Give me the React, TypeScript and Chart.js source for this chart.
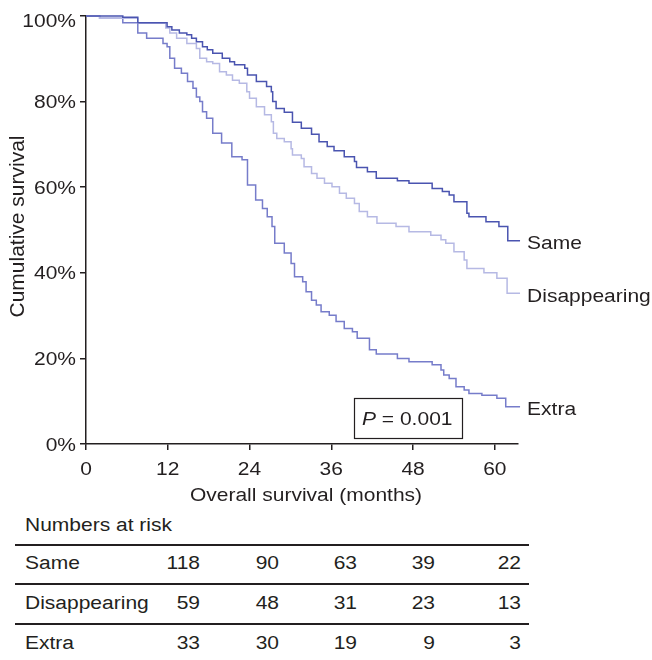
import { useEffect, useRef } from 'react';
import { Chart, registerables } from 'chart.js';

Chart.register(...registerables);

// Kaplan–Meier step points (months, cumulative survival %)
const sameMonths = [0, 5.4, 7.6, 11.9, 12.6, 13.7, 14.8, 15.5, 16.2, 17.1, 17.8, 18.6, 20.0, 21.1, 21.8, 23.3, 23.7, 25.0, 26.5, 27.2, 27.4, 27.9, 29.1, 30.3, 31.6, 33.1, 34.2, 35.4, 36.4, 37.9, 39.4, 39.7, 41.3, 42.6, 45.7, 47.4, 50.8, 52.3, 53.3, 54.0, 55.9, 56.2, 58.7, 60.6, 61.9, 63.7];
const sameSurvival = [100, 99.7, 98.4, 97.5, 96.7, 96.0, 95.6, 94.8, 94.0, 92.8, 92.1, 91.3, 90.1, 89.3, 88.6, 87.8, 86.2, 84.7, 83.5, 82.3, 80.0, 78.4, 77.5, 75.2, 73.8, 72.4, 70.6, 69.5, 68.5, 67.1, 66.0, 64.6, 63.6, 62.1, 61.5, 60.9, 59.7, 59.0, 58.2, 56.6, 53.9, 53.1, 51.9, 50.8, 47.5, 47.5];

const disappearingMonths = [0, 2.0, 7.6, 11.7, 12.3, 13.3, 14.8, 16.2, 16.7, 17.7, 18.6, 19.6, 20.6, 21.5, 22.5, 23.6, 24.0, 25.0, 26.2, 27.2, 27.5, 28.0, 29.1, 30.1, 30.3, 31.6, 32.0, 33.1, 33.9, 35.0, 36.1, 37.2, 38.2, 39.4, 40.1, 41.3, 42.7, 45.5, 47.4, 50.6, 52.1, 52.8, 54.0, 55.5, 55.9, 58.4, 60.3, 61.8, 63.7];
const disappearingSurvival = [100, 99.5, 98.3, 97.2, 96.0, 94.8, 93.6, 92.4, 90.1, 89.3, 88.9, 87.0, 86.2, 85.0, 84.3, 82.3, 80.8, 78.8, 76.9, 75.3, 72.6, 71.4, 70.6, 69.0, 67.5, 66.7, 64.8, 63.2, 62.1, 60.9, 60.1, 58.6, 57.4, 56.2, 54.3, 53.1, 51.6, 50.8, 49.6, 48.8, 47.7, 46.9, 44.9, 43.0, 41.0, 40.0, 38.7, 35.2, 35.2];

const extraMonths = [0, 2.0, 5.4, 7.6, 8.9, 11.3, 11.9, 12.3, 13.0, 14.0, 14.9, 15.7, 16.2, 16.7, 17.1, 17.7, 18.6, 19.9, 21.4, 22.9, 23.7, 24.9, 25.9, 26.6, 27.3, 27.7, 29.1, 30.1, 30.6, 31.8, 32.3, 33.1, 33.8, 34.5, 35.7, 36.7, 37.9, 39.1, 39.8, 41.6, 42.6, 45.7, 47.4, 50.8, 52.1, 52.5, 53.3, 54.3, 55.5, 56.2, 58.1, 60.3, 61.6, 63.7];
const extraSurvival = [100, 99.5, 98.4, 96.0, 94.8, 93.6, 92.8, 90.1, 87.8, 86.6, 84.7, 83.1, 81.1, 80.0, 77.6, 76.1, 72.6, 70.3, 67.1, 66.4, 60.5, 57.0, 55.0, 53.1, 50.8, 46.9, 44.6, 42.2, 39.1, 37.9, 35.6, 33.6, 32.5, 30.9, 30.1, 28.6, 27.0, 26.2, 24.7, 22.0, 21.0, 20.0, 19.2, 18.5, 17.3, 16.1, 15.3, 13.4, 12.6, 11.8, 11.4, 10.7, 8.7, 8.7];

const groupNames = ['Same', 'Disappearing', 'Extra'];
const xTicks = [0, 12, 24, 36, 48, 60];
const yTicks = [0, 20, 40, 60, 80, 100];
const xTitle = 'Overall survival (months)';
const yTitle = 'Cumulative survival';
const pValueText = '0.001';

// Numbers at risk at 0, 12, 24, 36 and 48 months
const riskTitle = 'Numbers at risk';
const sameAtRisk = [118, 90, 63, 39, 22];
const disappearingAtRisk = [59, 48, 31, 23, 13];
const extraAtRisk = [33, 30, 19, 9, 3];

const FONT = "'Liberation Sans', Arial, Helvetica, sans-serif";
const INK = '#231f20';
const SQUASH = 0.88;
const SIZE = 21;
const lineColors = ['#4a54b0', '#b6b9e4', '#767cca'];

function toPoints(months: number[], values: number[]) {
  return months.map((m, i) => ({ x: m, y: values[i] }));
}

function drawLabel(ctx: CanvasRenderingContext2D, text: string, x: number, yMid: number, align: CanvasTextAlign) {
  ctx.save();
  ctx.font = `${SIZE}px ${FONT}`;
  ctx.fillStyle = INK;
  ctx.textAlign = align;
  ctx.textBaseline = 'alphabetic';
  const cap = 0.716 * SIZE * SQUASH;
  ctx.translate(x, yMid + cap / 2);
  ctx.scale(1, SQUASH);
  ctx.fillText(text, 0, 0);
  ctx.restore();
}

const annotations = {
  id: 'kmAnnotations',
  afterDraw(chart: any) {
    const { ctx, chartArea, scales } = chart;
    const xs = scales.x;
    const ys = scales.y;

    yTicks.forEach((v) => {
      const py = Math.max(ys.getPixelForValue(v), chartArea.top + 4);
      drawLabel(ctx, `${v}%`, chartArea.left - 10, py, 'right');
    });
    xTicks.forEach((v) => {
      drawLabel(ctx, String(v), xs.getPixelForValue(v), chartArea.bottom + 24, 'center');
    });
    drawLabel(ctx, xTitle, (chartArea.left + chartArea.right) / 2 + 4, chartArea.bottom + 50, 'center');

    ctx.save();
    ctx.font = `${SIZE}px ${FONT}`;
    ctx.fillStyle = INK;
    ctx.textAlign = 'center';
    ctx.textBaseline = 'alphabetic';
    ctx.translate(24, (chartArea.top + chartArea.bottom) / 2 - 3.5);
    ctx.rotate(-Math.PI / 2);
    ctx.fillText(yTitle, 0, 0);
    ctx.restore();

    chart.data.datasets.forEach((ds: any, i: number) => {
      const meta = chart.getDatasetMeta(i);
      const last = meta.data[meta.data.length - 1];
      drawLabel(ctx, ds.label, last.x + 7, last.y + 2, 'left');
    });

    // P-value box
    const boxRight = chartArea.right - 56;
    const boxBottom = chartArea.bottom - 6;
    const boxW = 108;
    const boxH = 40;
    ctx.save();
    ctx.fillStyle = '#ffffff';
    ctx.fillRect(boxRight - boxW, boxBottom - boxH, boxW, boxH);
    ctx.strokeStyle = INK;
    ctx.lineWidth = 1.2;
    ctx.strokeRect(Math.round(boxRight - boxW) + 0.5, Math.round(boxBottom - boxH) + 0.5, boxW, boxH);
    const mid = boxBottom - boxH / 2;
    const cap = 0.716 * SIZE * SQUASH;
    ctx.fillStyle = INK;
    ctx.textBaseline = 'alphabetic';
    ctx.textAlign = 'left';
    ctx.translate(boxRight - boxW + 8, mid + cap / 2);
    ctx.scale(1, SQUASH);
    ctx.font = `italic ${SIZE}px ${FONT}`;
    ctx.fillText('P', 0, 0);
    const pw = ctx.measureText('P').width;
    ctx.font = `${SIZE}px ${FONT}`;
    ctx.fillText(` = ${pValueText}`, pw, 0);
    ctx.restore();
  },
};

const textStyle: React.CSSProperties = {
  position: 'absolute',
  fontFamily: FONT,
  fontSize: SIZE,
  lineHeight: '24px',
  height: 24,
  color: INK,
  whiteSpace: 'nowrap',
  transform: `scaleY(${SQUASH})`,
  transformOrigin: '0 11.8px',
};

function RiskTable() {
  const rows = [sameAtRisk, disappearingAtRisk, extraAtRisk];
  const colRight = [200, 279, 357, 435, 521];
  const rowMid = [563, 603, 643];
  const ruleY = [545, 584, 624];
  return (
    <>
      <div style={{ ...textStyle, left: 25, top: 525 - 11.8 }}>{riskTitle}</div>
      {ruleY.map((y) => (
        <div key={y} style={{ position: 'absolute', left: 15, width: 514, top: y - 0.75, height: 1.5, background: INK }} />
      ))}
      {rows.map((row, r) => (
        <div key={groupNames[r]}>
          <div style={{ ...textStyle, left: 25, top: rowMid[r] - 11.8 }}>{groupNames[r]}</div>
          {row.map((n, c) => (
            <div key={c} style={{ ...textStyle, right: 652 - colRight[c], top: rowMid[r] - 11.8, textAlign: 'right' }}>
              {n}
            </div>
          ))}
        </div>
      ))}
    </>
  );
}

export default function App() {
  const canvasRef = useRef<HTMLCanvasElement | null>(null);

  useEffect(() => {
    if (!canvasRef.current) return;
    const series = [
      toPoints(sameMonths, sameSurvival),
      toPoints(disappearingMonths, disappearingSurvival),
      toPoints(extraMonths, extraSurvival),
    ];
    const axisStyle = {
      grid: { drawOnChartArea: false, drawTicks: true, tickLength: 6, color: INK, lineWidth: 1.5 },
      border: { display: true, color: INK, width: 1.5 },
    };
    const chart = new Chart(canvasRef.current, {
      type: 'line',
      data: {
        datasets: series.map((pts, i) => ({
          label: groupNames[i],
          data: pts,
          borderColor: lineColors[i],
          backgroundColor: lineColors[i],
          borderWidth: 1.5,
          pointRadius: 0,
          stepped: 'before',
          fill: false,
          clip: false,
        })),
      },
      options: {
        animation: false,
        responsive: false,
        devicePixelRatio: 1,
        layout: { padding: { left: 0, top: 16, right: 134, bottom: 0 } },
        plugins: { legend: { display: false }, tooltip: { enabled: false } },
        scales: {
          x: {
            type: 'linear',
            min: 0,
            max: 63.4,
            ...axisStyle,
            ticks: { display: false },
            afterBuildTicks: (s: any) => {
              s.ticks = xTicks.map((v) => ({ value: v }));
            },
            afterFit: (s: any) => {
              s.height = 66;
            },
          },
          y: {
            type: 'linear',
            min: 0,
            max: 100,
            ...axisStyle,
            ticks: { display: false },
            afterBuildTicks: (s: any) => {
              s.ticks = yTicks.map((v) => ({ value: v }));
            },
            afterFit: (s: any) => {
              s.width = 86;
            },
          },
        },
      } as any,
      plugins: [annotations],
    });
    return () => chart.destroy();
  }, []);

  return (
    <div style={{ position: 'fixed', left: 0, top: 0, width: 652, height: 660, background: '#ffffff', overflow: 'hidden' }}>
      <canvas ref={canvasRef} width={652} height={510} style={{ position: 'absolute', left: 0, top: 0 }} />
      <RiskTable />
    </div>
  );
}
